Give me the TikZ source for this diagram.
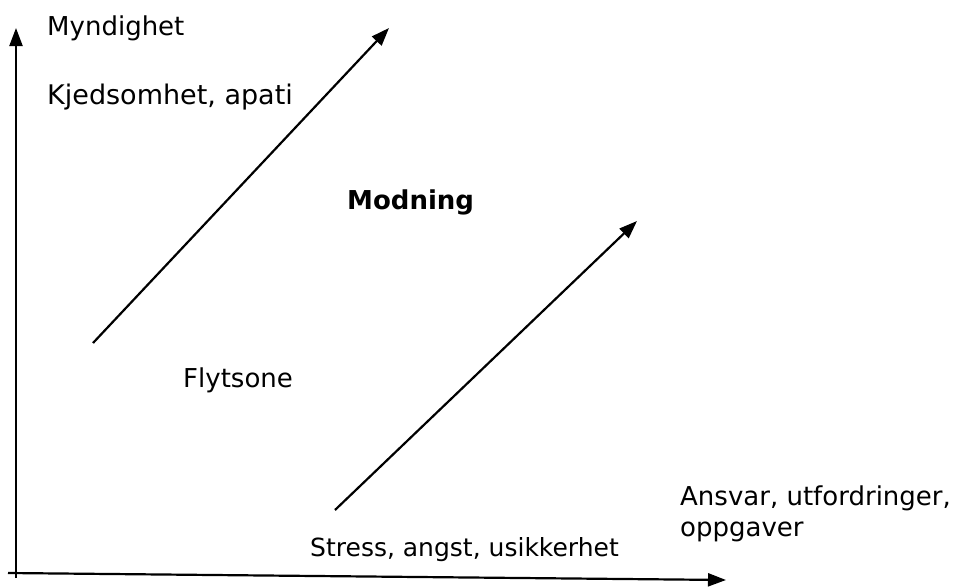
\documentclass[tikz,border=0pt]{standalone}
\usepackage{fontspec}
\setmainfont{DejaVu Sans}
\usetikzlibrary{arrows.meta}
\begin{document}
\begin{tikzpicture}[x=1pt,y=-1pt,
  arr/.style={line width=2.2pt,-{Triangle[length=18pt,width=13pt]}},
  lbl/.style={anchor=base west,inner sep=0pt,font=\fontsize{26}{30}\selectfont}]
\useasboundingbox (0,0) rectangle (954,587);
% axes
\coordinate (o) at (16,578);
\coordinate (ytip) at (16,28);
\coordinate (xs) at (8,573);
\coordinate (xtip) at (726,580);
\draw[arr] (o) -- (ytip);
\draw[arr] (xs) -- (xtip);
% diagonals
\coordinate (a1) at (93,343);
\coordinate (a2) at (389,28);
\coordinate (b1) at (335,510);
\coordinate (b2) at (637,221);
\draw[arr] (a1) -- (a2);
\draw[arr] (b1) -- (b2);
% labels
\node[lbl] (my) at (47,35) {Myndighet};
\node[lbl,font=\fontsize{27}{30}\selectfont] (kj) at (47,104) {Kjedsomhet, apati};
\node[lbl,font=\fontsize{26}{30}\selectfont\bfseries] (mo) at (347,209) {Modning};
\node[lbl] (fl) at (183,387) {Flytsone};
\node[lbl,font=\fontsize{25}{30}\selectfont] (st) at (310,556) {Stress, angst, usikkerhet};
\node[lbl] (an) at (680,505) {Ansvar, utfordringer,};
\node[lbl] (op) at (680,536) {oppgaver};
\end{tikzpicture}
\end{document}
